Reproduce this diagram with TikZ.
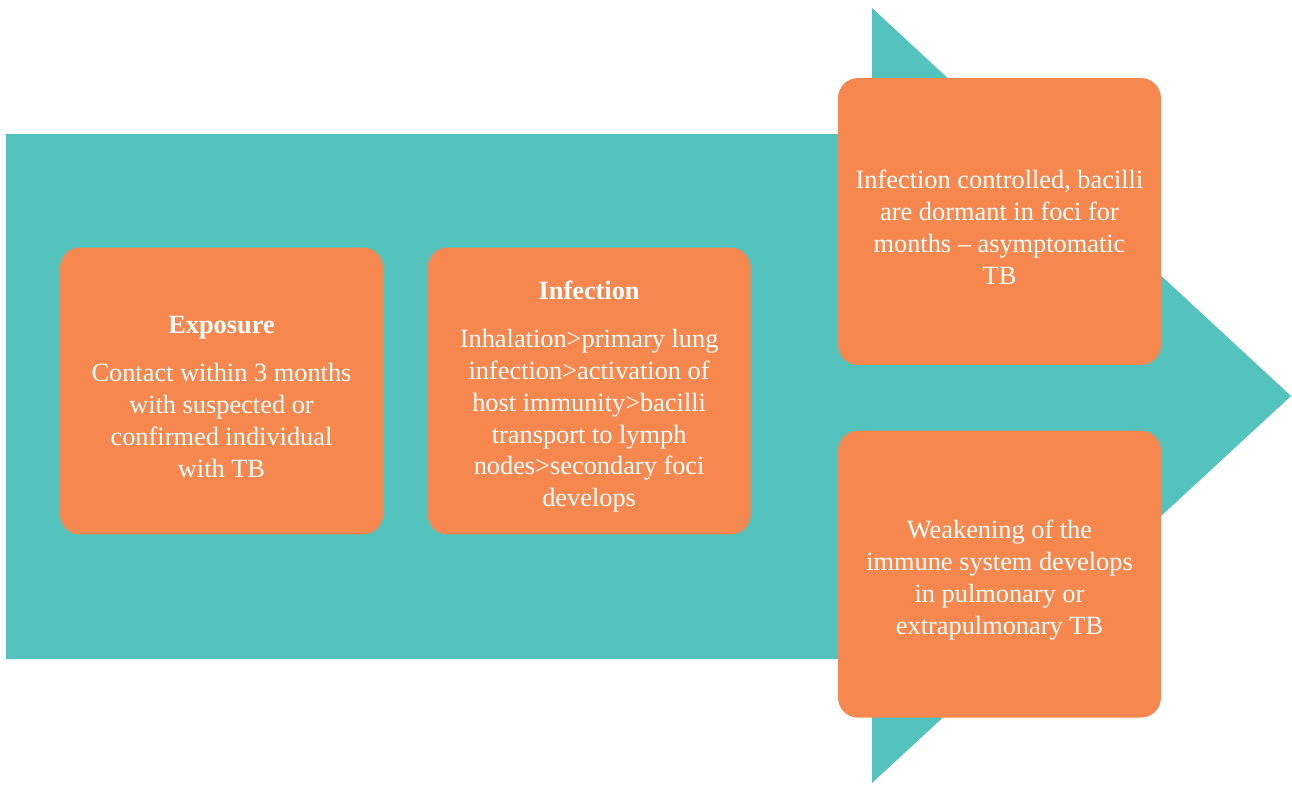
\documentclass[tikz,border=0pt]{standalone}
\usepackage{fontspec}
\setmainfont{Liberation Serif}
\usepackage{tikz}
\usetikzlibrary{positioning}

\definecolor{arrowteal}{HTML}{55C3BD}
\definecolor{stageorange}{HTML}{F6884F}

\newcommand{\stagetop}{\rule{0pt}{17pt}}

\begin{document}
\begin{tikzpicture}[x=0.02cm,y=-0.02cm,
    stage/.style={fill=stageorange,
        rounded corners=0.4cm,
        minimum width=6.46cm,
        minimum height=5.74cm,
        text=white,
        align=center,
        font=\fontsize{15}{18.2}\selectfont}]

        \useasboundingbox (0,0) rectangle (1292,785);

        % big arrow behind
        \fill[arrowteal] (6,134) -- (872,134) -- (872,8) -- (1291,396)
            -- (872,783) -- (872,659) -- (6,659) -- cycle;

        % stages
        \node [stage] (exposure) at (221.5,391)
            {\stagetop\textbf{Exposure}\\[9pt]
            Contact within 3 months\\
            with suspected or\\
            confirmed individual\\
            with TB};

        \node [stage,
        right=0.88cm of exposure
            ] (infection)
            {\stagetop\textbf{Infection}\\[9pt]
            Inhalation>primary lung\\
            infection>activation of\\
            host immunity>bacilli\\
            transport to lymph\\
            nodes>secondary foci\\
            develops};

        \node [stage] (latent) at (999.5,221.5)
            {\stagetop Infection controlled, bacilli\\
            are dormant in foci for\\
            months -- asymptomatic\\
            TB};

        \node [stage,
        below=1.3cm of latent
            ] (active)
            {\stagetop Weakening of the\\
            immune system develops\\
            in pulmonary or\\
            extrapulmonary TB};

\end{tikzpicture}
\end{document}
